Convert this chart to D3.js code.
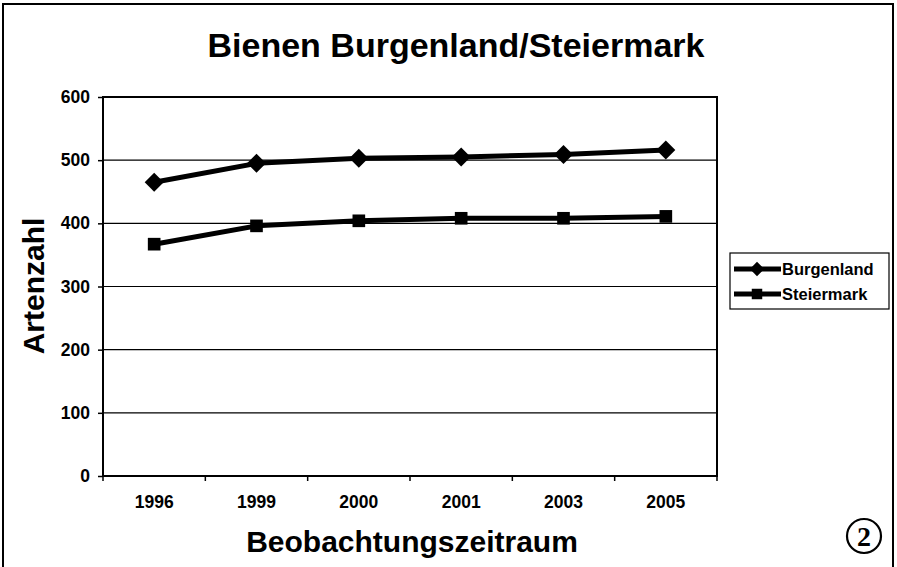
<!DOCTYPE html>
<html>
<head>
<meta charset="utf-8">
<script src="https://cdn.jsdelivr.net/npm/d3@7"></script>
<style>
  body { margin: 0; background: #fff; }
  text { font-family: "Liberation Sans", Arial, sans-serif; font-weight: bold; fill: #000; }
</style>
</head>
<body>
<div id="chart"></div>
<script>
// data
var years = ["1996", "1999", "2000", "2001", "2003", "2005"];
var burgenland = [465, 495, 503, 505, 509, 516];
var steiermark = [367, 396, 404, 408, 408, 411];
var yTicks = [0, 100, 200, 300, 400, 500, 600];

var svgWidth = 897, svgHeight = 567;
var plot = {left: 103, right: 717, top: 97, bottom: 476};

var svg = d3.select("#chart").append("svg")
    .attr("width", svgWidth)
    .attr("height", svgHeight);

// outer frame (open at bottom)
svg.append("path")
    .attr("d", "M3," + svgHeight + " L3,4 L893,4 L893," + svgHeight)
    .attr("fill", "none")
    .attr("stroke", "#000")
    .attr("stroke-width", 2);

var x = d3.scaleBand().domain(years).range([plot.left, plot.right]);
var y = d3.scaleLinear().domain([0, 600]).range([plot.bottom, plot.top]);

// gridlines
svg.append("g").selectAll("line")
    .data(yTicks)
    .enter().append("line")
    .attr("x1", plot.left).attr("x2", plot.right)
    .attr("y1", function(d) { return y(d); })
    .attr("y2", function(d) { return y(d); })
    .attr("stroke", "#000")
    .attr("stroke-width", 1.2);

// plot border
svg.append("rect")
    .attr("x", plot.left).attr("y", plot.top)
    .attr("width", plot.right - plot.left)
    .attr("height", plot.bottom - plot.top)
    .attr("fill", "none")
    .attr("stroke", "#000")
    .attr("stroke-width", 2);

// y axis
var yAxis = svg.append("g")
    .attr("transform", "translate(" + plot.left + ",0)")
    .call(d3.axisLeft(y).tickValues(yTicks).tickSize(5).tickPadding(8));
yAxis.select(".domain").remove();
yAxis.selectAll("line").attr("stroke", "#000").attr("stroke-width", 1.5);
yAxis.selectAll("text").style("font-size", "17.5px").style("font-family", "Liberation Sans, Arial, sans-serif").style("font-weight", "bold");

// x axis: ticks between categories
var xAxis = svg.append("g")
    .attr("transform", "translate(0," + plot.bottom + ")")
    .call(d3.axisBottom(x).tickSize(0).tickPadding(20));
xAxis.select(".domain").remove();
xAxis.selectAll("text").style("font-size", "17.5px").style("font-family", "Liberation Sans, Arial, sans-serif").style("font-weight", "bold");

var bounds = years.map(function(d) { return x(d); }).concat([plot.right]);
svg.append("g").selectAll("line")
    .data(bounds)
    .enter().append("line")
    .attr("x1", function(d) { return d; })
    .attr("x2", function(d) { return d; })
    .attr("y1", plot.bottom)
    .attr("y2", plot.bottom + 5)
    .attr("stroke", "#000")
    .attr("stroke-width", 1.5);

var cx = function(d, i) { return x(years[i]) + x.bandwidth() / 2; };

var line = d3.line()
    .x(function(d, i) { return x(years[i]) + x.bandwidth() / 2; })
    .y(function(d) { return y(d); });

var series = [
  {name: "Burgenland", values: burgenland, marker: "diamond"},
  {name: "Steiermark", values: steiermark, marker: "square"}
];

var diamond = d3.symbol().type(d3.symbolDiamond2).size(230);
var square = d3.symbol().type(d3.symbolSquare).size(160);

series.forEach(function(s) {
  svg.append("path")
      .attr("d", line(s.values))
      .attr("fill", "none")
      .attr("stroke", "#000")
      .attr("stroke-width", 5)
      .attr("stroke-linejoin", "round");

  svg.append("g").selectAll("path")
      .data(s.values)
      .enter().append("path")
      .attr("transform", function(d, i) { return "translate(" + cx(d, i) + "," + y(d) + ")"; })
      .attr("d", s.marker == "diamond" ? diamond() : square())
      .attr("fill", "#000");
});

// titles
svg.append("text")
    .attr("x", 456).attr("y", 57)
    .attr("text-anchor", "middle")
    .style("font-size", "34px")
    .text("Bienen Burgenland/Steiermark");

svg.append("text")
    .attr("transform", "translate(44,286) rotate(-90)")
    .attr("text-anchor", "middle")
    .style("font-size", "30px")
    .text("Artenzahl");

svg.append("text")
    .attr("x", 412).attr("y", 552)
    .attr("text-anchor", "middle")
    .style("font-size", "30px")
    .text("Beobachtungszeitraum");

// legend
var legend = svg.append("g").attr("transform", "translate(730,253)");
legend.append("rect")
    .attr("width", 159).attr("height", 56)
    .attr("fill", "#fff")
    .attr("stroke", "#000")
    .attr("stroke-width", 1.2);

series.forEach(function(s, i) {
  var ly = 16 + i * 25;
  legend.append("line")
      .attr("x1", 4).attr("x2", 51)
      .attr("y1", ly).attr("y2", ly)
      .attr("stroke", "#000")
      .attr("stroke-width", 5);
  legend.append("path")
      .attr("transform", "translate(27," + ly + ")")
      .attr("d", s.marker == "diamond" ? d3.symbol().type(d3.symbolDiamond2).size(130)() : d3.symbol().type(d3.symbolSquare).size(110)())
      .attr("fill", "#000");
  legend.append("text")
      .attr("x", 52).attr("y", ly + 6)
      .style("font-size", "16.5px")
      .text(s.name);
});

// circled number
svg.append("circle")
    .attr("cx", 864).attr("cy", 536)
    .attr("r", 17)
    .attr("fill", "none")
    .attr("stroke", "#000")
    .attr("stroke-width", 2.2);
svg.append("text")
    .attr("x", 864).attr("y", 546)
    .attr("text-anchor", "middle")
    .style("font-family", "Liberation Serif, serif")
    .style("font-weight", "bold")
    .style("font-size", "28px")
    .text("2");
</script>
</body>
</html>
